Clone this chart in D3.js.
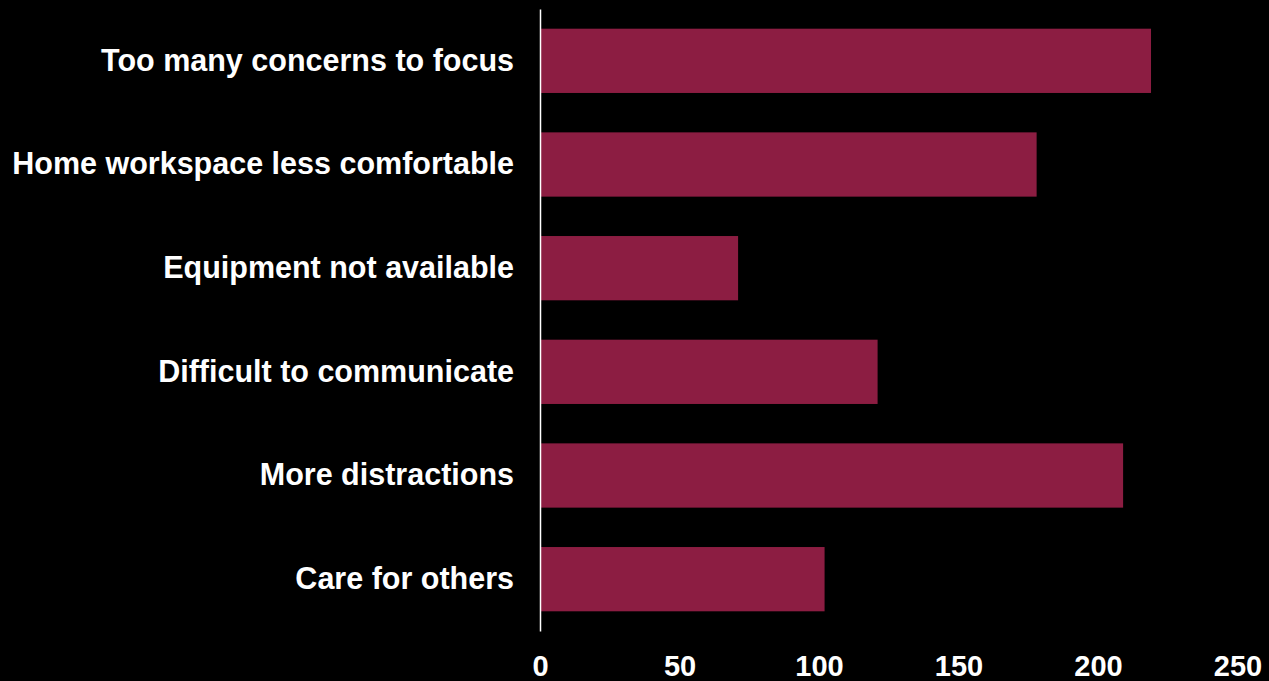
<!DOCTYPE html>
<html>
<head>
<meta charset="utf-8">
<script src="https://cdn.jsdelivr.net/npm/d3@7"></script>
<style>
  html, body { margin: 0; padding: 0; background: #000; }
  svg { display: block; }
  text { font-family: "Liberation Sans", Arial, sans-serif; font-weight: bold; fill: #fff; }
</style>
</head>
<body>
<svg id="chart" width="1269" height="681"></svg>
<script>
// Reasons reported for lower productivity when working from home
const categories = [
  "Too many concerns to focus",
  "Home workspace less comfortable",
  "Equipment not available",
  "Difficult to communicate",
  "More distractions",
  "Care for others"
];
const counts = [219, 178, 71, 121, 209, 102];
const tickValues = [0, 50, 100, 150, 200, 250];

const svg = d3.select("#chart");
const W = 1269, H = 681;
svg.append("rect").attr("width", W).attr("height", H).attr("fill", "#000");

const x = d3.scaleLinear().domain([0, 250]).range([540, 1237.5]);
const y = d3.scaleBand().domain(categories).range([9, 631])
  .paddingInner(0.38).paddingOuter(0.19);

// bars
svg.append("g").selectAll("rect")
  .data(categories)
  .join("rect")
  .attr("x", x(0) + 1)
  .attr("y", d => y(d))
  .attr("width", (d, i) => x(counts[i]) - x(0) - 1)
  .attr("height", y.bandwidth())
  .attr("fill", "#8c1d42");

// category axis: line and labels
const yAxis = d3.axisLeft(y).tickSize(0).tickPadding(26);
const gy = svg.append("g").attr("transform", `translate(${x(0)},0)`).call(yAxis);
gy.select(".domain").attr("stroke", "#fff").attr("stroke-width", 1.5);
gy.selectAll("text")
  .attr("font-size", 30.5)
  .attr("font-family", "'Liberation Sans', Arial, sans-serif")
  .attr("font-weight", "bold")
  .attr("fill", "#fff");

// value axis: labels only
const xAxis = d3.axisBottom(x).tickValues(tickValues).tickSize(0).tickPadding(0);
const gx = svg.append("g").attr("transform", "translate(0,653)").call(xAxis);
gx.select(".domain").remove();
gx.selectAll("text")
  .attr("font-size", 29)
  .attr("font-family", "'Liberation Sans', Arial, sans-serif")
  .attr("font-weight", "bold")
  .attr("fill", "#fff")
  .attr("dy", "0.78em");
</script>
</body>
</html>
